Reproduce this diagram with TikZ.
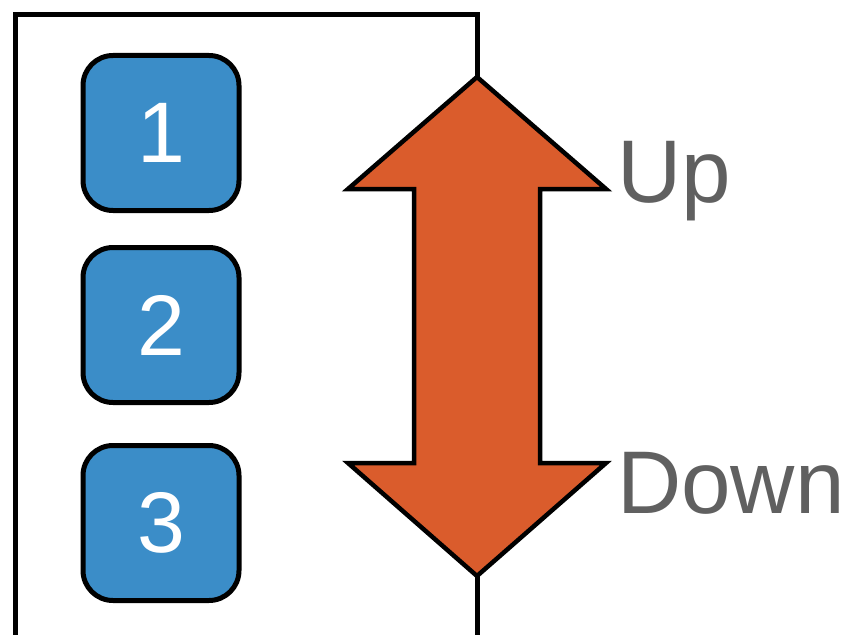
\documentclass[tikz,border=0pt]{standalone}
\usepackage{fontspec}
\setmainfont{Liberation Sans}
\definecolor{boxblue}{HTML}{3B8DC8}
\definecolor{arroworange}{HTML}{DA5C2C}
\definecolor{labelgray}{HTML}{606060}
\begin{document}
\begin{tikzpicture}[x=1pt,y=-1pt,
  numbox/.style={draw=black,line width=5pt,fill=boxblue,rounded corners=30pt,
    minimum width=156pt,minimum height=155pt,inner sep=0pt},
  digit/.style={text=white,font=\fontsize{86}{86}\selectfont,inner sep=0pt},
  lbl/.style={text=labelgray,font=\fontsize{89}{89}\selectfont,inner sep=0pt,anchor=base west},
  frame/.style={draw=black,line width=5pt},
  bigarrow/.style={draw=black,line width=4.5pt,fill=arroworange,line join=miter}]
\useasboundingbox (0,0) rectangle (848,634);
\begin{scope}
\clip (0,0) rectangle (848,634);
\draw[frame] (15,650) -- (15,15) -- (477,15) -- (477,650);
\end{scope}
% boxes
\node[numbox] (b1) at (161,133) {};
\node[numbox] (b2) at (161,325) {};
\node[numbox] (b3) at (161,523) {};
\node[digit] (d1) at (b1.center) {1};
\node[digit] (d2) at (b2.center) {2};
\node[digit] (d3) at (b3.center) {3};
% double arrow
\draw[bigarrow] (477,77) -- (606,189) -- (540,189) -- (540,463) -- (606,463)
  -- (477,576) -- (348,463) -- (414,463) -- (414,189) -- (348,189) -- cycle;
% labels
\node[lbl] (up) at (617,202) {Up};
\node[lbl] (down) at (617,513) {Down};
\end{tikzpicture}
\end{document}
